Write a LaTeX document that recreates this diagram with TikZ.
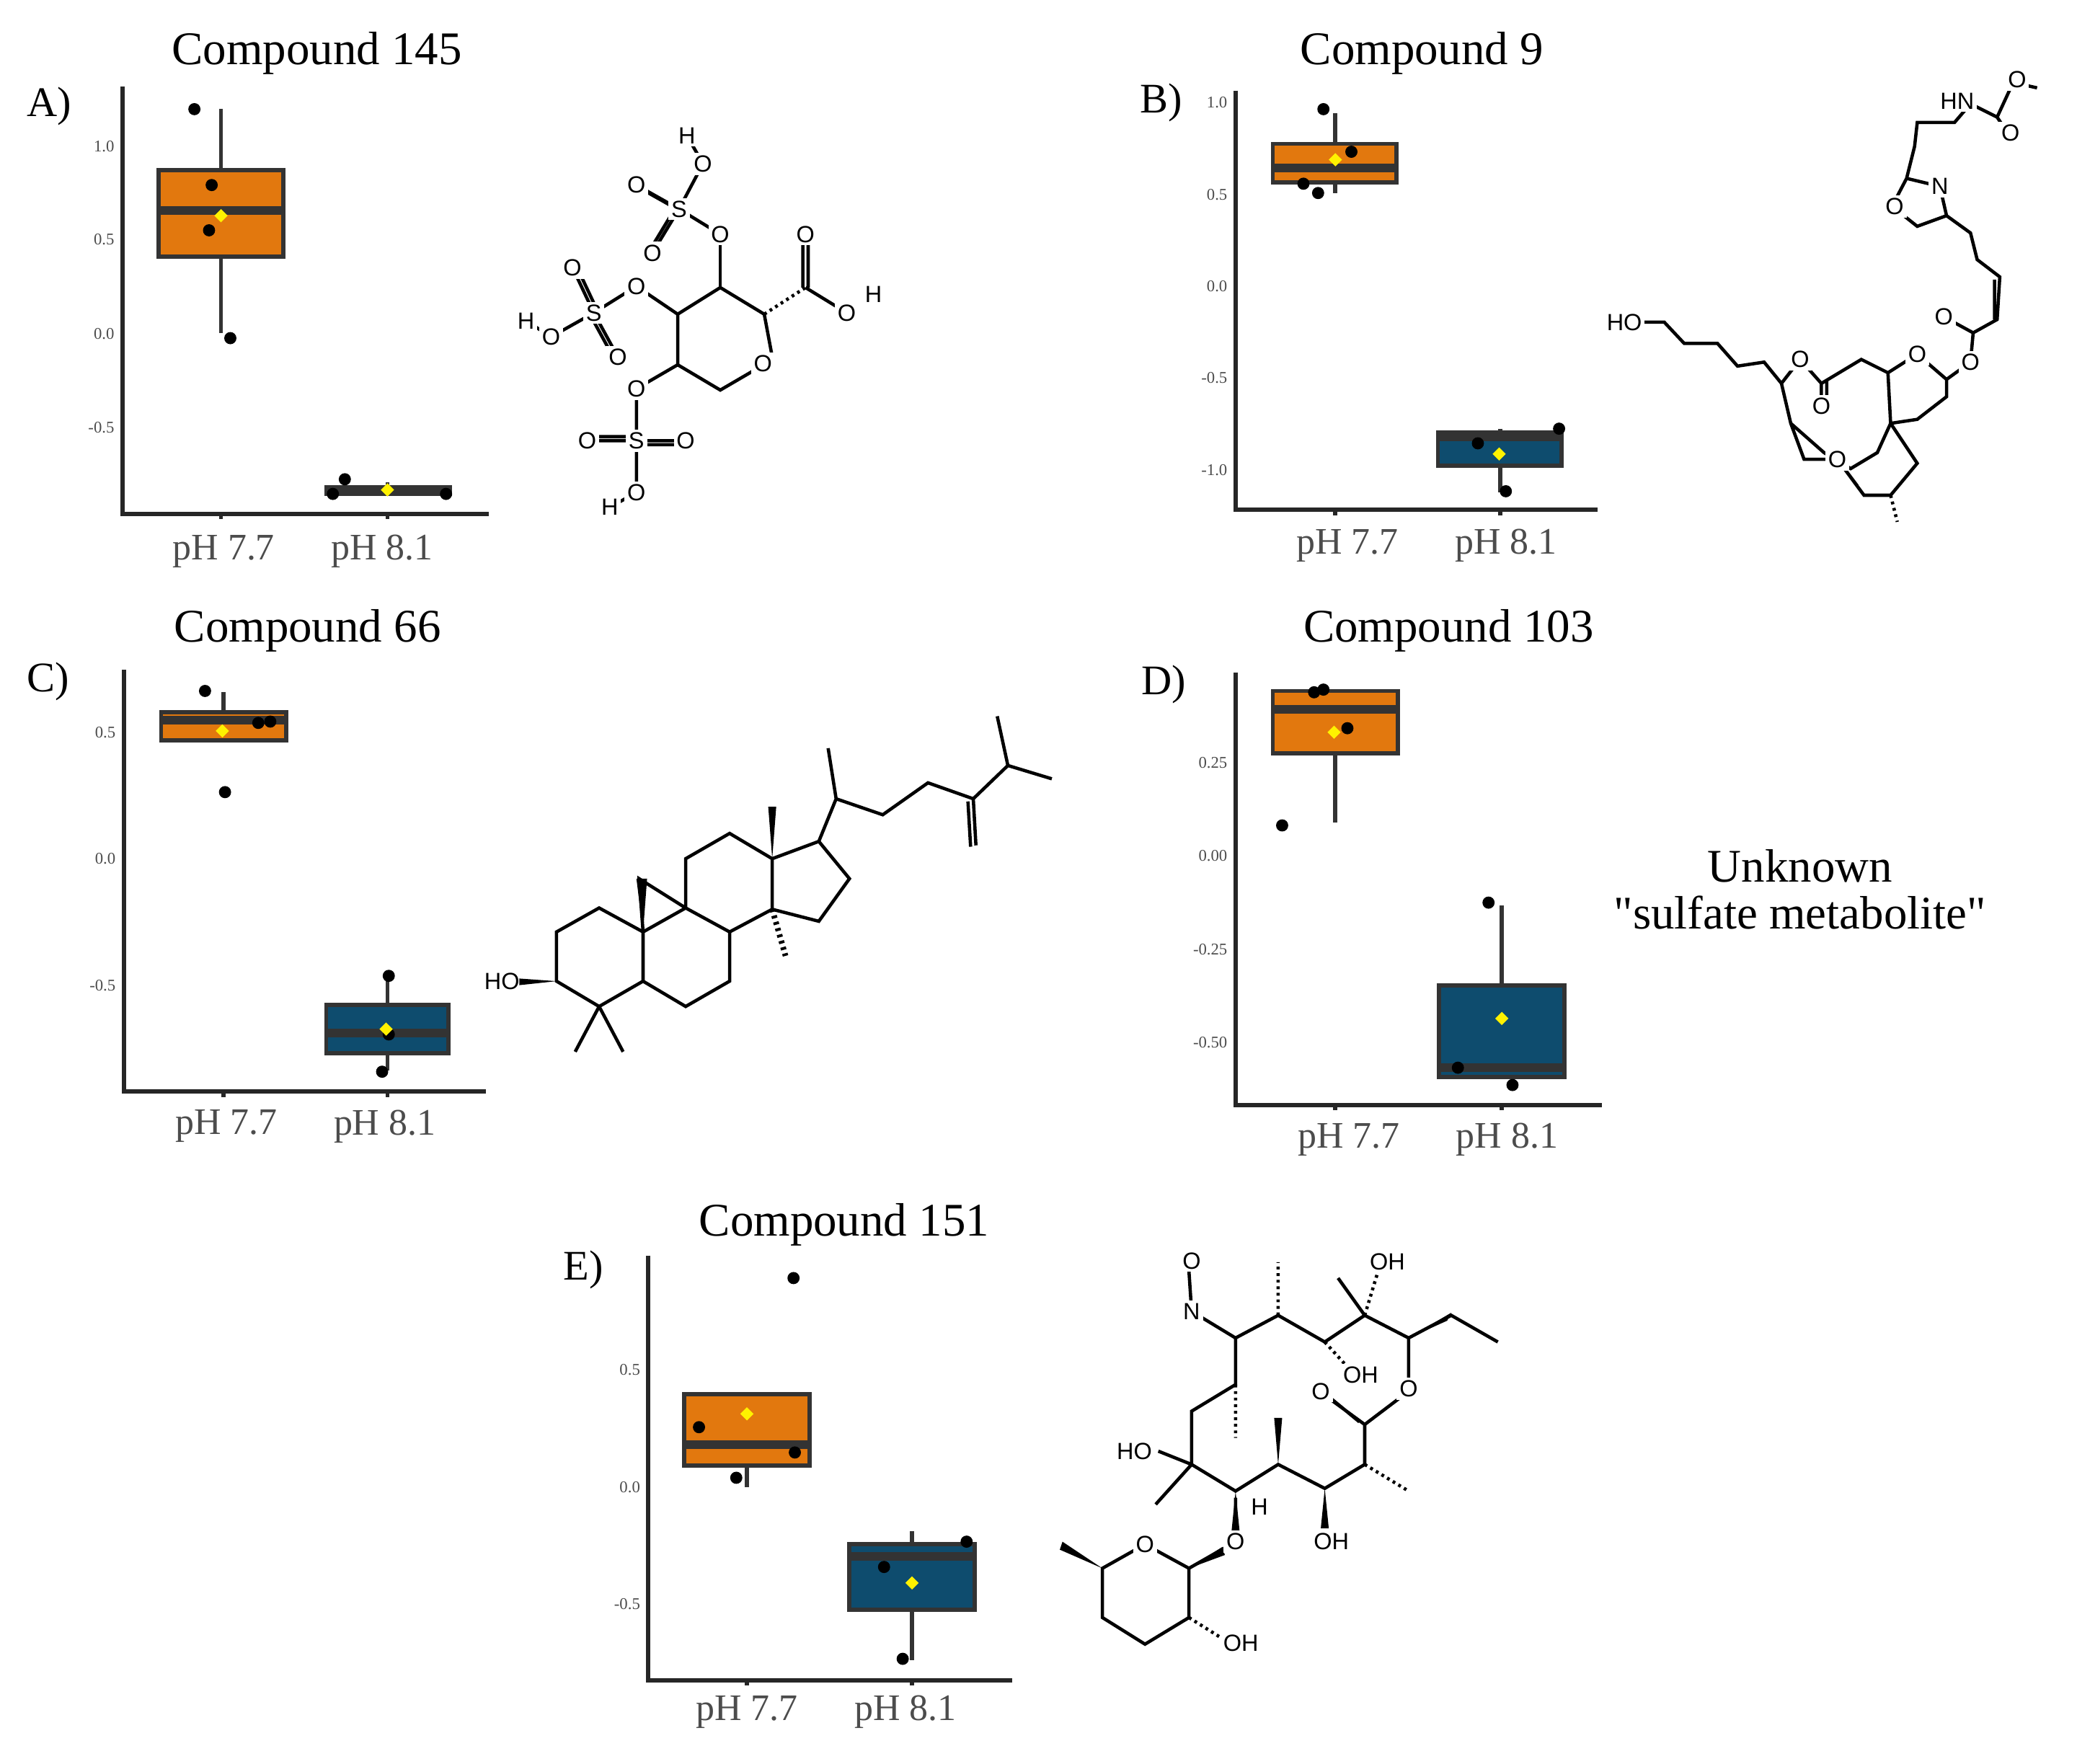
\documentclass[tikz,border=0pt]{standalone}
\usepackage{fontspec}
\setmainfont{Liberation Serif}
\setsansfont{Liberation Sans}
\newfontfamily\plainser{Liberation Serif}[Ligatures=Common]
\usetikzlibrary{shapes.geometric}
\begin{document}
\begin{tikzpicture}[x=0.01cm,y=-0.01cm,
  axis/.style={line width=0.9pt,black!85},
  tick/.style={font=\fontsize{3.5}{4}\selectfont,anchor=east,inner sep=1pt,text=black!70},
  xlab/.style={font=\fontsize{8}{9}\selectfont,text=black!70},
  ttl/.style={font=\fontsize{10}{11}\selectfont},
  panel/.style={font=\fontsize{9}{11}\selectfont},
  ob/.style={fill=orng,draw=black!80,line width=0.9pt},
  bb/.style={fill=blu,draw=black!80,line width=0.9pt},
  med/.style={line width=1.8pt,black!80},
  wh/.style={line width=0.9pt,black!80},
  pt/.style={circle,fill=black,inner sep=0pt,minimum size=2.6pt},
  mn/.style={diamond,fill=yellow,inner sep=0pt,minimum size=3pt},
  bond/.style={line width=0.7pt},
  hash/.style={line width=0.7pt,dash pattern=on 0.6pt off 0.8pt},
  atom/.style={font=\sffamily\fontsize{5}{6}\selectfont,fill=white,inner sep=0.6pt},
]
\definecolor{orng}{RGB}{226,120,14}
\definecolor{blu}{RGB}{14,76,110}
\useasboundingbox (0,0) rectangle (1560,1325);
% ---------------- A
\node[ttl] at (238,40) {Compound 145};
\node[panel] at (37,80) {A)};
\draw[axis] (92,65) -- (92,386) -- (367,386);
\foreach \y/\l in {110/1.0,180/0.5,251/0.0,321/-0.5}{\node[tick] at (90,\y) {\l};}
\draw[axis] (166,386)--(166,390) (291,386)--(291,390);
\draw[wh] (166,82)--(166,250);
\draw[ob] (119,128) rectangle (213,193);
\draw[med] (119,158)--(213,158);
\draw[wh] (291,362)--(291,372);
\draw[bb] (245,366) rectangle (338,371);
\draw[med] (245,368)--(338,368);
\foreach \p in {(146,82),(159,139),(157,173),(173,254),(259,360),(250,371),(335,371)} \node[pt] at \p {};
\node[mn] at (166,162) {}; \node[mn] at (291,368) {};
\node[xlab] at (168,414) {pH 7.7}; \node[xlab] at (287,414) {pH 8.1};
% structure A
\draw[bond] (541,216)--(509,236)--(509,274)--(541,293)--(565,279) (580,268)--(574,236)--(541,216);
\draw[bond] (541,216)--(541,176);
\draw[hash] (574,236)--(605,216);
\draw[bond] (605,216)--(636,235) (603,216)--(603,180) (607,216)--(607,180);
\draw[bond] (541,176)--(510,157)--(528,123) (510,157)--(478,139) (512,159)--(480,141) (510,157)--(490,190) (508,155)--(488,188);
\draw[bond] (509,236)--(478,215)--(446,235)--(414,253)--(395,241) (446,235)--(430,201) (449,234)--(433,200) (446,235)--(464,268) (443,236)--(461,269);
\draw[bond] (509,274)--(478,292)--(478,331)--(478,370)--(458,381) (478,331)--(441,331) (478,328)--(441,328) (478,331)--(515,331) (478,334)--(515,334) (528,123)--(516,102);
\foreach \p/\t in {(573,273)/O,(541,176)/O,(510,157)/S,(478,139)/O,(490,190)/O,(528,123)/O,(516,102)/H,(605,176)/O,(636,235)/O,(656,221)/H,(478,215)/O,(446,235)/S,(430,201)/O,(464,268)/O,(414,253)/O,(395,241)/H,(478,292)/O,(478,331)/S,(441,331)/O,(515,331)/O,(478,370)/O,(458,381)/H}
  \node[atom] at \p {\t};
% ---------------- B
\node[ttl] at (1068,40) {Compound 9};
\node[panel] at (872,77) {B)};
\draw[axis] (928,68) -- (928,383) -- (1200,383);
\foreach \y/\l in {77/1.0,146/0.5,215/0.0,284/-0.5,353/-1.0}{\node[tick] at (926,\y) {\l};}
\draw[axis] (1003,383)--(1003,387) (1127,383)--(1127,387);
\draw[wh] (1003,85)--(1003,145);
\draw[ob] (956,108) rectangle (1049,137);
\draw[med] (956,126)--(1049,126);
\draw[wh] (1127,322)--(1127,370);
\draw[bb] (1080,325) rectangle (1173,350);
\draw[med] (1080,328)--(1173,328);
\foreach \p in {(994,82),(1015,114),(979,138),(990,145),(1171,322),(1110,333),(1131,369)} \node[pt] at \p {};
\node[mn] at (1003,120) {}; \node[mn] at (1126,341) {};
\node[xlab] at (1012,410) {pH 7.7}; \node[xlab] at (1131,410) {pH 8.1};
% structure B (approximate skeleton)
\draw[bond] (1230,242)--(1250,242)--(1265,258)--(1290,258)--(1305,275)--(1325,272)--(1338,288)
 (1338,288)--(1352,270)--(1368,288)--(1398,270)--(1418,280)--(1440,266)--(1462,285)--(1480,272)
 (1338,288)--(1345,318)--(1370,340)--(1390,352)--(1410,340)--(1420,318)--(1440,315)--(1462,298)--(1462,285)
 (1420,318)--(1440,348)--(1420,372)--(1400,372)--(1380,345)
 (1345,318)--(1355,345)--(1372,345) (1380,345)--(1395,365)
 (1418,280)--(1420,318) (1368,288)--(1368,305) (1372,286)--(1372,305)
 (1480,272)--(1482,250)--(1460,238) (1482,250)--(1500,240)--(1502,208)--(1485,195)--(1480,175)--(1462,162)
 (1462,162)--(1457,140)--(1432,134)--(1421,155)--(1440,170)--(1462,162)
 (1432,134)--(1438,110)--(1440,92)--(1468,92)--(1480,78)--(1500,88)--(1512,62)--(1530,66)
 (1500,88)--(1508,100) (1498,240)--(1498,210);
\draw[hash] (1420,372)--(1425,392);
\foreach \p/\t in {(1220,242)/HO,(1352,270)/O,(1368,305)/O,(1380,345)/O,(1440,266)/O,(1480,272)/O,(1460,238)/O,(1423,155)/O,(1457,140)/N,(1470,76)/HN,(1515,60)/O,(1510,100)/O}
  \node[atom] at \p {\t};
% ---------------- C
\node[ttl] at (231,474) {Compound 66};
\node[panel] at (36,512) {C)};
\draw[axis] (93,503) -- (93,820) -- (365,820);
\foreach \y/\l in {550/0.5,645/0.0,740/-0.5}{\node[tick] at (91,\y) {\l};}
\draw[axis] (168,820)--(168,824) (291,820)--(291,824);
\draw[wh] (168,520)--(168,556);
\draw[ob] (121,535) rectangle (215,556);
\draw[med] (121,541)--(215,541);
\draw[wh] (291,733)--(291,804);
\draw[bb] (245,755) rectangle (337,791);
\draw[med] (245,776)--(337,776);
\foreach \p in {(154,519),(194,543),(203,542),(169,595),(292,733),(292,777),(287,805)} \node[pt] at \p {};
\node[mn] at (167,549) {}; \node[mn] at (290,773) {};
\node[xlab] at (170,846) {pH 7.7}; \node[xlab] at (289,846) {pH 8.1};
% steroid
\draw[bond] (418,700)--(450,682)--(483,700)--(483,737)--(450,756)--(418,737)--cycle
 (483,700)--(515,682)--(548,700)--(548,737)--(515,756)--(483,737)
 (515,682)--(515,645)--(548,626)--(580,645)--(580,683)--(548,700)
 (580,645)--(615,632)--(638,660)--(615,692)--(580,683)
 (615,632)--(628,600)--(622,562) (628,600)--(663,612)--(697,588)--(731,600)--(757,575)--(749,538) (757,575)--(790,585)
 (731,600)--(733,635) (727,602)--(729,636)
 (450,756)--(432,790) (450,756)--(468,790)
 (483,700)--(480,660)--(515,682);
\fill (580,645)--(577,606)--(583,606)--cycle;
\fill (483,700)--(478,660)--(486,660)--cycle;
\fill (418,737)--(390,735)--(390,740)--cycle;
\draw[hash,line width=1.2pt] (580,683)--(590,718);
\node[atom,fill=none] at (377,737) {HO};
% ---------------- D
\node[ttl] at (1088,474) {Compound 103};
\node[panel] at (874,514) {D)};
\draw[axis] (928,505) -- (928,830) -- (1203,830);
\foreach \y/\l in {573/0.25,643/0.00,713/-0.25,783/-0.50}{\node[tick] at (926,\y) {\l};}
\draw[axis] (1003,830)--(1003,834) (1128,830)--(1128,834);
\draw[wh] (1003,519)--(1003,618);
\draw[ob] (956,519) rectangle (1050,566);
\draw[med] (956,533)--(1050,533);
\draw[wh] (1128,680)--(1128,809);
\draw[bb] (1081,740) rectangle (1175,809);
\draw[med] (1081,802)--(1175,802);
\foreach \p in {(987,520),(994,518),(1012,547),(963,620),(1118,678),(1095,802),(1136,815)} \node[pt] at \p {};
\node[mn] at (1002,550) {}; \node[mn] at (1128,765) {};
\node[xlab] at (1013,856) {pH 7.7}; \node[xlab] at (1132,856) {pH 8.1};
\node[ttl,align=center,font=\plainser\fontsize{10}{11}\selectfont] at (1352,668) {Unknown\\[-1pt]"sulfate metabolite"};
% ---------------- E
\node[ttl] at (634,920) {Compound 151};
\node[panel] at (438,954) {E)};
\draw[axis] (487,943) -- (487,1262) -- (760,1262);
\foreach \y/\l in {1029/0.5,1117/0.0,1205/-0.5}{\node[tick] at (485,\y) {\l};}
\draw[axis] (561,1262)--(561,1266) (685,1262)--(685,1266);
\draw[wh] (561,1101)--(561,1117);
\draw[ob] (514,1047) rectangle (608,1101);
\draw[med] (514,1085)--(608,1085);
\draw[wh] (685,1150)--(685,1247);
\draw[bb] (638,1160) rectangle (732,1209);
\draw[med] (638,1169)--(732,1169);
\foreach \p in {(596,960),(525,1072),(597,1091),(553,1110),(726,1158),(664,1177),(678,1246)} \node[pt] at \p {};
\node[mn] at (561,1062) {}; \node[mn] at (685,1189) {};
\node[xlab] at (561,1286) {pH 7.7}; \node[xlab] at (680,1286) {pH 8.1};
% macrolide
\draw[bond] (895,985)--(928,1005)--(960,988)--(995,1008)--(1025,988)--(1058,1005)--(1090,988)--(1125,1008)
 (1025,988)--(1005,960)
 (928,1005)--(928,1040)--(895,1060)--(895,1100)--(868,1130) (895,1100)--(870,1090)
 (895,1100)--(928,1120)--(960,1100)--(995,1118)--(1025,1100)--(1025,1070)--(1058,1045)
 (1025,1070)--(995,1048) (1021,1068)--(993,1045)
 (895,985)--(893,955)
 (1058,1045)--(1058,1005)
 (860,1160)--(828,1178)--(828,1215)--(860,1235)--(893,1215)--(893,1178)--(860,1160)
 (893,1178)--(928,1158)--(928,1125);
\fill (960,1100)--(957,1065)--(963,1065)--cycle;
\fill (928,1120)--(925,1150)--(931,1150)--cycle;
\fill (995,1118)--(992,1148)--(998,1148)--cycle;
\fill (1058,1005)--(1090,986)--(1087,992)--cycle;
\fill (828,1178)--(798,1158)--(796,1164)--cycle;
\fill (893,1178)--(918,1162)--(920,1168)--cycle;
\draw[hash] (960,988)--(960,948) (928,1040)--(928,1080) (995,1008)--(1015,1030) (1025,1100)--(1058,1120) (1025,988)--(1035,955) (893,1215)--(920,1232);
\foreach \p/\t in {(895,947)/O,(895,985)/N,(1042,948)/OH,(1022,1033)/OH,(992,1045)/O,(1058,1043)/O,(852,1090)/HO,(946,1132)/H,(928,1158)/O,(1000,1158)/OH,(860,1160)/O,(932,1234)/OH}
  \node[atom] at \p {\t};
\end{tikzpicture}
\end{document}
